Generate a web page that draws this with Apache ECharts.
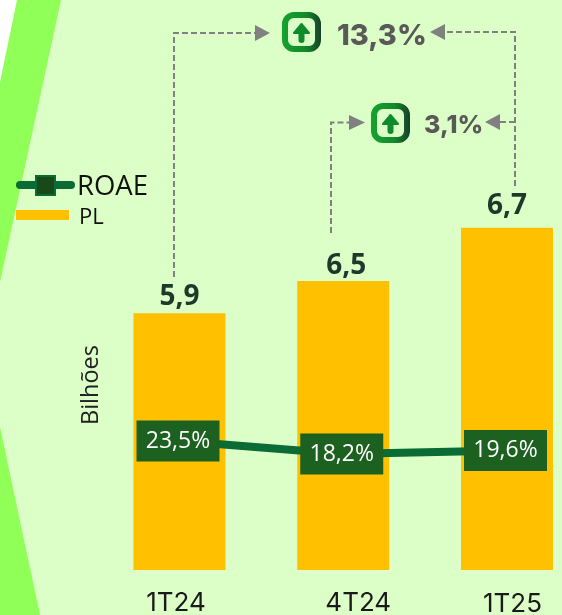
<!DOCTYPE html>
<html>
<head>
<meta charset="utf-8">
<style>
  html, body { margin: 0; padding: 0; background: #dcffc8; }
  #main { width: 562px; height: 615px; }
</style>
<script src="https://cdn.jsdelivr.net/npm/echarts@6/dist/echarts.min.js"></script>
</head>
<body>
<div id="main"></div>
<script>
const categories = ['1T24', '4T24', '1T25'];
// printed PL values
const plLabels = ['5,9', '6,5', '6,7'];
// the bars in the original are not drawn to scale, these are the heights as read off the picture
const plBarHeights = [5.9, 6.64, 7.86];
const roaeValues = [23.5, 18.2, 19.6];
const roaeLabels = ['23,5%', '18,2%', '19,6%'];
const growthLabels = ['13,3%', '3,1%'];

const GREY = '#808080';
const dashed = { stroke: GREY, lineWidth: 2, lineDash: [6, 3], fill: null };

// dashed connector through the given points
function connector(points) {
  return { type: 'polyline', shape: { points: points }, style: dashed, silent: true };
}

function arrowHead(points) {
  return { type: 'polygon', shape: { points: points }, style: { fill: GREY }, silent: true };
}

// rounded green badge with the up arrow
function badge(x, y) {
  return [
    {
      type: 'rect',
      shape: { x: x + 3, y: y + 3, width: 33, height: 34, r: 9 },
      style: {
        fill: '#dcffc8',
        lineWidth: 6,
        stroke: {
          type: 'linear', x: 0, y: 0, x2: 1, y2: 0,
          colorStops: [
            { offset: 0, color: '#15a32d' },
            { offset: 0.6, color: '#128a2c' },
            { offset: 1, color: '#17402a' }
          ]
        }
      }
    },
    {
      type: 'polygon',
      shape: { points: [[x + 19.5, y + 12], [x + 27, y + 21], [x + 12, y + 21]] },
      style: { fill: '#0f8a2c', stroke: '#0f8a2c', lineWidth: 2, lineJoin: 'round' }
    },
    {
      type: 'line',
      shape: { x1: x + 19.5, y1: y + 20, x2: x + 19.5, y2: y + 28 },
      style: { stroke: '#0f8a2c', lineWidth: 6, lineCap: 'round' }
    }
  ];
}

// label gap and sideways nudge differ per bar in the original
const barLabelTweaks = [
  { distance: 2, offset: [0, 0] },
  { distance: 1, offset: [3, 0] },
  { distance: 8, offset: [0, 0] }
];

const myChart = echarts.init(document.getElementById('main'));

const option = {
  backgroundColor: '#dcffc8',
  animation: false,
  // first and last category sit on the grid edges, the bars stick out past them
  grid: { left: 179.5, top: 200, width: 327.5, height: 370, outerBoundsMode: 'none' },
  xAxis: {
    type: 'category',
    data: categories,
    boundaryGap: false,
    axisLine: { show: false },
    axisTick: { show: false },
    axisLabel: {
      margin: 20,
      // the tick labels sit a little off the bar centres in the original
      formatter: (value, index) => '{t' + index + '|' + value + '}',
      rich: {
        t0: { fontFamily: 'Inter', fontSize: 26, color: '#1a1a1a', padding: [0, 7, 0, 0] },
        t1: { fontFamily: 'Inter', fontSize: 26, color: '#1a1a1a', padding: [0, 0, 0, 30] },
        t2: { fontFamily: 'Inter', fontSize: 26, color: '#1a1a1a', padding: [1, 0, 0, 11] }
      }
    }
  },
  yAxis: [
    {
      type: 'value',
      min: 0,
      max: 8.5,
      show: true,
      axisLine: { show: false },
      axisTick: { show: false },
      axisLabel: { show: false },
      splitLine: { show: false },
      name: 'Bilhões',
      nameLocation: 'middle',
      nameGap: 76,
      nameTextStyle: { fontFamily: 'Open Sans', fontSize: 23.5, color: '#222222' }
    },
    {
      type: 'value',
      min: -29.15,
      max: 121.87,
      show: false
    }
  ],
  series: [
    {
      name: 'PL',
      type: 'bar',
      data: plBarHeights.map((v, i) => ({ value: v, label: barLabelTweaks[i] })),
      barWidth: 92,
      itemStyle: { color: '#ffc000' },
      label: {
        show: true,
        position: 'top',
        formatter: (p) => plLabels[p.dataIndex],
        fontFamily: 'Open Sans',
        fontWeight: 'bold',
        fontSize: 28,
        color: '#1c3a2a'
      }
    },
    {
      name: 'ROAE',
      type: 'line',
      yAxisIndex: 1,
      data: roaeValues,
      z: 5,
      symbol: 'rect',
      symbolSize: 1,
      showSymbol: true,
      lineStyle: { color: '#0a6b35', width: 8 },
      itemStyle: { color: '#0a6b35' },
      label: {
        show: true,
        position: 'inside',
        offset: [-1.5, 0],
        formatter: (p) => roaeLabels[p.dataIndex],
        fontFamily: 'Open Sans',
        fontSize: 23,
        color: '#ffffff',
        backgroundColor: '#1d6120',
        width: 83,
        height: 41,
        lineHeight: 41,
        align: 'center',
        verticalAlign: 'middle'
      }
    }
  ],
  graphic: [
    // background shapes
    { type: 'polygon', z: 0, silent: true, shape: { points: [[0, 0], [61, 0], [0, 282]] }, style: { fill: '#90ff58' } },
    { type: 'polygon', z: 0, silent: true, shape: { points: [[0, 0], [17, 0], [0, 82]] }, style: { fill: '#ffffff' } },
    { type: 'polygon', z: 0, silent: true, shape: { points: [[0, 427], [40, 615], [0, 615]] }, style: { fill: '#90ff58' } },

    // legend
    { type: 'line', shape: { x1: 20, y1: 185, x2: 71, y2: 185 }, style: { stroke: '#0a6b35', lineWidth: 8, lineCap: 'round' } },
    { type: 'rect', shape: { x: 36, y: 176, width: 19, height: 19 }, style: { fill: '#174a18', stroke: '#0a6b35', lineWidth: 2 } },
    { type: 'text', x: 77, y: 187, style: { text: 'ROAE', fontFamily: 'Open Sans', fontSize: 27.5, fill: '#111111', verticalAlign: 'middle' } },
    { type: 'rect', shape: { x: 16, y: 210, width: 53, height: 10 }, style: { fill: '#ffc000' } },
    { type: 'text', x: 79, y: 218, style: { text: 'PL', fontFamily: 'Open Sans', fontSize: 22, fill: '#111111', verticalAlign: 'middle' } },

    // connectors
    connector([[174, 277], [174, 33], [255, 33]]),
    arrowHead([[255, 25], [270, 33], [255, 41]]),
    connector([[331, 233], [331, 122.5], [349, 122.5]]),
    arrowHead([[349, 115], [365, 122.5], [349, 130]]),
    connector([[515, 186], [515, 32], [445, 32]]),
    arrowHead([[445, 24], [430, 32], [445, 40]]),
    connector([[515, 122], [500, 122]]),
    arrowHead([[500, 114], [485, 122], [500, 130]]),

    // growth badges and figures
    ...badge(282, 12),
    ...badge(371, 103),
    { type: 'text', x: 337, y: 36, style: { text: growthLabels[0], fontFamily: 'Inter', fontWeight: 800, fontSize: 29, fill: '#595959', verticalAlign: 'middle' } },
    { type: 'text', x: 424, y: 125, style: { text: growthLabels[1], fontFamily: 'Inter', fontWeight: 800, fontSize: 25, fill: '#595959', verticalAlign: 'middle' } }
  ]
};

myChart.setOption(option);
</script>
</body>
</html>
